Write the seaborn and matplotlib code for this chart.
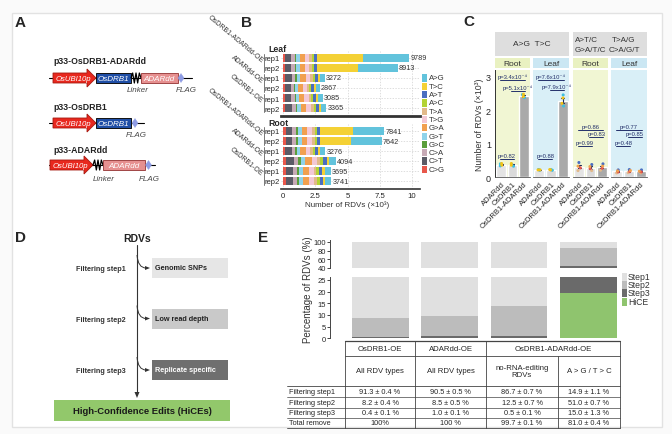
import numpy as np
import pandas as pd
import matplotlib
matplotlib.use("Agg")
import matplotlib.pyplot as plt
import seaborn as sns
from matplotlib.patches import Rectangle, Polygon, PathPatch
from matplotlib.path import Path
from matplotlib.lines import Line2D

sns.set_theme(style="white")
plt.rcParams['font.family'] = ['Liberation Sans', 'DejaVu Sans']

# ---------------- DATA ----------------
# Panel B: stacked RDV counts (rows: Leaf DA rep1, rep2, AD rep1, rep2, OD rep1, rep2, then Root same)
b_types = ["A>G", "T>C", "A>T", "A>C", "T>A", "T>G", "G>A", "G>T", "G>C", "C>A", "C>T", "C>G"]
b_groups = ["OsDRB1-ADARdd-OE", "ADARdd-OE", "OsDRB1-OE"]
b_reps = ["rep1", "rep2"]
b_tissues = ["Leaf", "Root"]
b_totals = [9789, 8913, 3272, 2867, 3085, 3365, 7841, 7642, 3276, 4094, 3695, 3741]
cnt_CG = [180, 180, 186, 166, 176, 193, 200, 200, 186, 235, 210, 214]
cnt_CT = [470, 470, 489, 434, 462, 507, 525, 525, 489, 615, 552, 561]
cnt_CA = [260, 260, 270, 240, 255, 280, 290, 290, 270, 340, 305, 310]
cnt_GC = [130, 130, 135, 120, 128, 140, 145, 145, 135, 170, 153, 155]
cnt_GT = [260, 260, 270, 240, 255, 280, 290, 290, 270, 340, 305, 310]
cnt_GA = [390, 390, 405, 360, 382, 420, 435, 435, 405, 510, 458, 465]
cnt_TG = [340, 340, 354, 314, 334, 367, 380, 380, 354, 445, 400, 406]
cnt_TA = [180, 180, 186, 166, 176, 193, 200, 200, 186, 235, 210, 214]
cnt_AC = [180, 180, 186, 166, 176, 193, 200, 200, 186, 235, 210, 214]
cnt_AT = [210, 210, 219, 194, 206, 227, 235, 235, 219, 275, 247, 251]
cnt_TC = [3600, 3200, 150, 140, 150, 160, 2500, 2400, 160, 200, 180, 180]
cnt_AG = [3589, 3113, 422, 327, 385, 405, 2441, 2342, 416, 494, 465, 461]

# Panel C: per-replicate values (x10^3)
c_groups = ["ADARdd", "OsDRB1", "OsDRB1-ADARdd"]
c_pt_types_agtc = ["A>G", "A>G", "T>C", "T>C"]
c_pt_types_other = ["T>A", "A>T", "C>G", "G>A"]
c_root_agtc = [[0.34, 0.40, 0.36, 0.41], [0.33, 0.39, 0.36, 0.41], [2.37, 2.46, 2.40, 2.47]]
c_leaf_agtc = [[0.21, 0.23, 0.22, 0.22], [0.21, 0.23, 0.22, 0.23], [2.12, 2.45, 2.20, 2.36]]
c_root_other = [[0.20, 0.44, 0.28, 0.33], [0.20, 0.38, 0.26, 0.32], [0.21, 0.40, 0.27, 0.33]]
c_leaf_other = [[0.13, 0.22, 0.16, 0.19], [0.14, 0.23, 0.17, 0.20], [0.13, 0.22, 0.16, 0.18]]
c_p_root_agtc = ["p=0.82", "p=5.1x10⁻⁴", "p=3.4x10⁻⁴"]
c_p_leaf_agtc = ["p=0.88", "p=7.9x10⁻⁴", "p=7.6x10⁻⁴"]
c_p_root_other = ["p=0.99", "p=0.83", "p=0.86"]
c_p_leaf_other = ["p=0.48", "p=0.85", "p=0.77"]

# Panel E: stacked percentages
e_cats = ["OsDRB1-OE", "ADARdd-OE", "no-RNA-editing", "A>G/T>C"]
e_hice = [0.0, 0.0, 0.3, 19.5]
e_step3 = [0.6, 1.0, 0.5, 26.0]
e_step2 = [8.2, 8.6, 13.0, 40.5]
e_step1 = [91.2, 90.4, 86.2, 14.0]
e_table_rows = ["Filtering step1", "Filtering step2", "Filtering step3", "Total remove"]
e_table_c1 = ["91.3 ± 0.4 %", "8.2 ± 0.4 %", "0.4 ± 0.1 %", "100%"]
e_table_c2 = ["90.5 ± 0.5 %", "8.5 ± 0.5 %", "1.0 ± 0.1 %", "100 %"]
e_table_c3 = ["86.7 ± 0.7 %", "12.5 ± 0.7 %", "0.5 ± 0.1 %", "99.7 ± 0.1 %"]
e_table_c4 = ["14.9 ± 1.1 %", "51.0 ± 0.7 %", "15.0 ± 1.3 %", "81.0 ± 0.4 %"]

# ---------------- FIGURE ----------------
W, H = 672, 435
fig = plt.figure(figsize=(W / 100, H / 100), dpi=100, facecolor='#fafafa')
fig.add_artist(Rectangle((12 / W, 1 - 428 / H), 650 / W, 414 / H, transform=fig.transFigure,
                         facecolor='white', edgecolor='#e2e2e2', lw=1.0, zorder=-1))


def add_ax(x0, y0, x1, y1):
    return fig.add_axes([x0 / W, 1 - y1 / H, (x1 - x0) / W, (y1 - y0) / H])


# ---------------- PANEL B ----------------
b_colors = {"A>G": "#62c3dc", "T>C": "#f4d135", "A>T": "#4a6ec0", "A>C": "#b3d334",
            "T>A": "#e2b98a", "T>G": "#f3c8d6", "G>A": "#f1a04f", "G>T": "#8fd3ea",
            "G>C": "#5b9e3b", "C>A": "#c7aab6", "C>T": "#5b5b66", "C>G": "#e8574b"}
seg = {"A>G": cnt_AG, "T>C": cnt_TC, "A>T": cnt_AT, "A>C": cnt_AC, "T>A": cnt_TA, "T>G": cnt_TG,
       "G>A": cnt_GA, "G>T": cnt_GT, "G>C": cnt_GC, "C>A": cnt_CA, "C>T": cnt_CT, "C>G": cnt_CG}
row_ids = [f"{g}|{r}" for g in b_groups for r in b_reps]
stack_order = b_types[::-1]
axB = [add_ax(281, 52, 420, 117), add_ax(281, 125, 420, 190)]
for ti, ax in enumerate(axB):
    sl = slice(6 * ti, 6 * ti + 6)
    cum = np.zeros(6)
    cums = []
    for t in stack_order:
        cum = cum + np.array(seg[t][sl], dtype=float)
        cums.append((t, cum.copy()))
    for t, c in reversed(cums):
        sns.barplot(x=c, y=row_ids, orient='h', color=b_colors[t], width=0.8,
                    saturation=1, linewidth=0, ax=ax)
    for i, tot in enumerate(b_totals[sl]):
        ax.text(tot + 80, i, str(tot), va='center', ha='left', fontsize=5.2, color='#333')
    ax.set_xlim(-155, 10620)
    ax.set_ylim(5.8, -0.7)
    ax.set_xticks([0, 2500, 5000, 7500, 10000])
    ax.set_yticks(range(6))
    ax.set_yticklabels(b_reps * 3, fontsize=5.5)
    ax.tick_params(axis='y', length=0, pad=1)
    ax.set_axisbelow(True)
    ax.grid(True, ls=(0, (2, 2)), color='#d0d0d0', lw=0.5)
    for s in ['top', 'right', 'left']:
        ax.spines[s].set_visible(False)
    ax.spines['bottom'].set_color('#333333')
    ax.set_xlabel('')
    ax.set_ylabel('')
    ax.set_facecolor('white')
axB[0].spines['bottom'].set_linewidth(2.0)
axB[0].tick_params(axis='x', length=0, labelbottom=False)
axB[1].spines['bottom'].set_linewidth(1.2)
axB[1].set_xticklabels(["0", "2.5", "5", "7.5", "10"], fontsize=5.6)
axB[1].tick_params(axis='x', length=2, pad=0.5, width=0.6)

# ---------------- PANEL C ----------------
c_pal = {"ADARdd": "#e4e4e4", "OsDRB1": "#dadada", "OsDRB1-ADARdd": "#a9a9a9"}
pt_pal = {t: b_colors[t] for t in b_types}
pt_pal["A>G"] = "#3fbfe0"
pt_pal["T>C"] = "#f2c318"
facets = [
    ((495, 530), c_root_agtc, c_pt_types_agtc, c_p_root_agtc, "#f1f6d3", [0.55, 2.58, 2.88]),
    ((533, 569), c_leaf_agtc, c_pt_types_agtc, c_p_leaf_agtc, "#d9eff7", [0.53, 2.60, 2.88]),
    ((573, 608), c_root_other, c_pt_types_other, c_p_root_other, "#f1f6d3", [0.93, 1.20, 1.42]),
    ((611, 647), c_leaf_other, c_pt_types_other, c_p_leaf_other, "#d9eff7", [0.93, 1.20, 1.42]),
]
pairs = [(0, 1), (1, 2), (0, 2)]
for fi, (xr, vals, ptypes, pv, bg, ys) in enumerate(facets):
    ax = add_ax(xr[0], 70.7, xr[1], 178.3)
    df = pd.DataFrame({"group": [g for g in c_groups for _ in range(4)],
                       "val": [v for row in vals for v in row],
                       "type": ptypes * 3})
    sns.barplot(data=df, x="group", y="val", hue="group", palette=c_pal, order=c_groups,
                hue_order=c_groups, legend=False, width=0.85, saturation=1, errorbar="se",
                capsize=0.25, err_kws={"color": "#1d2a5e", "linewidth": 0.8}, ax=ax)
    sns.stripplot(data=df, x="group", y="val", hue="type", palette=pt_pal, order=c_groups,
                  size=2.2, jitter=0.12, legend=False, ax=ax, zorder=4)
    ax.set_facecolor(bg)
    ax.set_ylim(0, 3.2)
    ax.set_xlim(-0.55, 2.55)
    ax.set_xlabel('')
    ax.set_ylabel('')
    ax.set_xticks([0, 1, 2])
    ax.set_xticklabels(c_groups, rotation=45, ha='right', rotation_mode='anchor', fontsize=5.5)
    ax.tick_params(axis='x', length=0, pad=2)
    for s in ['top', 'right']:
        ax.spines[s].set_visible(False)
    ax.spines['bottom'].set_color('#555555')
    ax.spines['bottom'].set_linewidth(0.6)
    if fi == 0:
        ax.set_yticks([0, 1, 2, 3])
        ax.set_yticklabels(["0", "1", "2", "3"], fontsize=6.5)
        ax.tick_params(axis='y', length=2, pad=1, width=0.6)
        ax.spines['left'].set_color('#333333')
        ax.spines['left'].set_linewidth(0.7)
    else:
        ax.set_yticks([])
        ax.spines['left'].set_visible(False)
    for (i, j), yv, txt in zip(pairs, ys, pv):
        ax.plot([i - 0.1, j + 0.1], [yv, yv], color='#24316b', lw=0.7)
        ax.text((i + j) / 2, yv + 0.03, txt, ha='center', va='bottom', fontsize=4.2, color='#24316b')

# ---------------- PANEL E ----------------
e_colors = {"Step1": "#e0e0e0", "Step2": "#bcbcbc", "Step3": "#6a6a6a", "HiCE": "#8fc46e"}
c1 = np.array(e_hice)
c2 = c1 + np.array(e_step3)
c3 = c2 + np.array(e_step2)
c4 = c3 + np.array(e_step1)
axEu = add_ax(330, 241, 625, 269)
axEl = add_ax(330, 277.7, 625, 339.3)
for ax in (axEu, axEl):
    for cv, key in [(c4, "Step1"), (c3, "Step2"), (c2, "Step3"), (c1, "HiCE")]:
        sns.barplot(x=e_cats, y=cv, order=e_cats, color=e_colors[key], width=0.82,
                    saturation=1, linewidth=0, ax=ax)
    ax.set_xlim(-0.73, 3.53)
    ax.set_xticks([])
    for s in ['top', 'right', 'bottom']:
        ax.spines[s].set_visible(False)
    ax.spines['left'].set_color('#444444')
    ax.spines['left'].set_linewidth(0.7)
    ax.tick_params(axis='y', length=2, pad=1, width=0.6, labelsize=5.5, left=True)
    ax.set_facecolor('none')
axEu.set_ylim(40, 104.6)
axEu.set_yticks([40, 60, 80, 100])
axEl.set_ylim(0, 26.4)
axEl.set_yticks([0, 5, 10, 15, 20, 25])

# ---------------- OVERLAY (schematics, labels, table) ----------------
ax_o = fig.add_axes([0, 0, 1, 1])
ax_o.set_xlim(0, W)
ax_o.set_ylim(H, 0)
ax_o.axis('off')
ax_o.set_facecolor('none')

for lab, (x, y) in zip("ABCDE", [(20, 23), (247, 23), (469, 22), (20, 238), (263, 238)]):
    ax_o.text(x, y, lab, fontsize=11, fontweight='bold', ha='center', va='center')

# Panel A
def baseline(x0, x1, y):
    ax_o.add_line(Line2D([x0, x1], [y, y], color='black', lw=0.8, zorder=2))

def promoter(x0, x1, y):
    pts = [(x0, y - 5), (x1 - 9, y - 5), (x1 - 9, y - 9), (x1, y), (x1 - 9, y + 9), (x1 - 9, y + 5), (x0, y + 5)]
    ax_o.add_patch(Polygon(pts, closed=True, fc='#e8281e', ec='#a51b12', lw=0.6, zorder=3))
    ax_o.text((x0 + x1) / 2 - 1, y + 0.5, 'OsUBI10p', color='white', style='italic', fontsize=5.6,
              ha='center', va='center', zorder=4)

def box(x0, x1, y, fc, ec, label):
    ax_o.add_patch(Rectangle((x0, y - 5), x1 - x0, 10, fc=fc, ec=ec, lw=0.7, zorder=3))
    ax_o.text((x0 + x1) / 2, y + 0.5, label, color='white', style='italic', fontsize=5.8,
              ha='center', va='center', zorder=4)

def zigzag(x0, x1, y):
    n = 5
    xs = np.linspace(x0, x1, n + 2)
    ys = [y] + [y - 5 if k % 2 == 0 else y + 5 for k in range(n)] + [y]
    ax_o.add_line(Line2D(xs, ys, color='black', lw=0.9, zorder=3))

def diamond(xc, y):
    ax_o.add_patch(Polygon([(xc - 3, y), (xc, y - 4.5), (xc + 3, y), (xc, y + 4.5)], closed=True,
                           fc='#8e9ce4', ec='#8e9ce4', lw=0.3, zorder=3))

def italic(x, y, s):
    ax_o.text(x, y, s, style='italic', fontsize=5.8, color='#444444', ha='center', va='center')

ax_o.text(53, 62, "p33-OsDRB1-ADARdd", fontsize=6.3, fontweight='bold', va='center', color='#222')
baseline(49, 192, 79)
promoter(53, 96, 79)
box(96, 131, 79, '#1f4ea6', '#111111', 'OsDRB1')
zigzag(131, 141, 79)
box(141, 178, 79, '#e69090', '#a04545', 'ADARdd')
diamond(181, 79)
italic(138, 90.5, "Linker")
italic(186, 90.5, "FLAG")

ax_o.text(53, 107, "p33-OsDRB1", fontsize=6.3, fontweight='bold', va='center', color='#222')
baseline(49, 144, 124)
promoter(53, 96, 124)
box(96, 131, 124, '#1f4ea6', '#111111', 'OsDRB1')
diamond(135, 124)
italic(136, 135.5, "FLAG")

ax_o.text(53, 151, "p33-ADARdd", fontsize=6.3, fontweight='bold', va='center', color='#222')
baseline(49, 155, 166)
promoter(50, 93, 166)
zigzag(93, 103, 166)
box(103, 145, 166, '#e69090', '#a04545', 'ADARdd')
diamond(148.5, 166)
italic(104, 180, "Linker")
italic(149, 180, "FLAG")

# Panel B group labels, brackets, legend, tissue labels
ax_o.text(268, 50, "Leaf", fontsize=6.3, fontweight='bold', va='center')
ax_o.text(268, 123, "Root", fontsize=6.3, fontweight='bold', va='center')
for base in (59, 132):
    for gi, g in enumerate(b_groups):
        yc = base + gi * 20 + 5
        ax_o.add_line(Line2D([263.5, 263.5], [yc - 9, yc + 9], color='#777777', lw=0.7))
        ax_o.text(262, yc - 2, g, rotation=-40, rotation_mode='anchor', ha='right', va='center',
                  fontsize=5.0, color='#333')
for i, t in enumerate(b_types):
    yc = 79 + i * 8.3
    ax_o.add_patch(Rectangle((422, yc - 3.6), 5, 7.2, fc=b_colors[t], ec='none'))
    ax_o.text(428.5, yc, t, fontsize=5.6, va='center', ha='left', color='#333')
ax_o.text(347, 205, "Number of RDVs (×10³)", fontsize=5.8, ha='center', va='center', color='#333')

# Panel C headers
ax_o.add_patch(Rectangle((495, 33), 74, 24, fc='#dedede', ec='none'))
ax_o.add_patch(Rectangle((573, 33), 74, 24, fc='#dedede', ec='none'))
ax_o.text(532, 45, "A>G  T>C", fontsize=6, ha='center', va='center', color='#333')
ax_o.text(574.5, 40, "A>T/C", fontsize=5.8, ha='left', va='center', color='#333')
ax_o.text(612, 40, "T>A/G", fontsize=5.8, ha='left', va='center', color='#333')
ax_o.text(574.5, 51, "G>A/T/C", fontsize=5.8, ha='left', va='center', color='#333')
ax_o.text(608.5, 51, "C>A/G/T", fontsize=5.8, ha='left', va='center', color='#333')
for (x0, x1), lab, col in [((495, 530), "Root", '#e9f1c1'), ((533, 569), "Leaf", '#cbe7f3'),
                           ((573, 608), "Root", '#e9f1c1'), ((611, 647), "Leaf", '#cbe7f3')]:
    ax_o.add_patch(Rectangle((x0, 59), x1 - x0, 9.5, fc=col, ec='none'))
    ax_o.text((x0 + x1) / 2, 64, lab, fontsize=6, ha='center', va='center', color='#333')
ax_o.text(480, 125, "Number of RDVs (×10³)", rotation=90, fontsize=6.3, ha='center', va='center', color='#333')

# Panel D flowchart
ax_o.text(137, 239, "RDVs", fontsize=7.5, fontweight='bold', ha='center', va='center', color='#222')
ax_o.add_line(Line2D([137, 137], [246, 394], color='#333333', lw=0.8))
ax_o.add_patch(Polygon([(134.5, 393), (139.5, 393), (137, 399)], closed=True, fc='#333333', ec='none'))
d_boxes = [(259, "Genomic SNPs", '#e6e6e6', '#222'), (309.5, "Low read depth", '#c9c9c9', '#222'),
           (361, "Replicate specific", '#6f6f6f', 'white')]
for k, (y0, lab, fc, tc_) in enumerate(d_boxes):
    ax_o.add_patch(Rectangle((152, y0), 76, 20, fc=fc, ec='none'))
    ax_o.text(155, y0 + 10, lab, fontsize=5.2, fontweight='bold', ha='left', va='center', color=tc_)
    yb = y0 + 10
    curve = Path([(137, y0 - 3), (138, yb), (146, yb)], [Path.MOVETO, Path.CURVE3, Path.CURVE3])
    ax_o.add_patch(PathPatch(curve, fc='none', ec='#333333', lw=0.7))
    ax_o.add_patch(Polygon([(145, yb - 2), (145, yb + 2), (150, yb)], closed=True, fc='#333333', ec='none'))
    ax_o.text(126, y0 + 11, f"Filtering step{k + 1}", fontsize=5.2, fontweight='bold',
              ha='right', va='center', color='#333')
ax_o.add_patch(Rectangle((54, 401), 176, 21, fc='#92c86b', ec='none'))
ax_o.text(142, 411.5, "High-Confidence Edits (HiCEs)", fontsize=6.8, fontweight='bold',
          ha='center', va='center', color='#1a1a1a')

# Panel E ylabel and legend
ax_o.text(308, 290, "Percentage of RDVs (%)", rotation=90, fontsize=7, ha='center', va='center', color='#333')
for i, key in enumerate(["Step1", "Step2", "Step3", "HiCE"]):
    yc = [278, 286, 294, 303][i]
    ax_o.add_patch(Rectangle((622, yc - 4), 5, 8, fc=e_colors[key], ec='none'))
    ax_o.text(628, yc, key, fontsize=6.2, va='center', ha='left', color='#333')

# Table
tc = '#444444'
def hline(y, x0, x1, lw=0.6):
    ax_o.add_line(Line2D([x0, x1], [y, y], color=tc, lw=lw))
def vline(x, y0, y1, lw=0.6):
    ax_o.add_line(Line2D([x, x], [y0, y1], color=tc, lw=lw))
hline(342, 345, 620, 0.9)
hline(357, 345, 620)
hline(387, 287, 620)
for y in (398, 409, 419):
    hline(y, 287, 620, 0.5)
hline(429, 287, 620)
for x in (345, 415, 486, 620):
    vline(x, 342, 429)
vline(558, 357, 429)
fs = 5.3
ax_o.text(380, 349.5, "OsDRB1-OE", fontsize=fs + 0.3, ha='center', va='center')
ax_o.text(450.5, 349.5, "ADARdd-OE", fontsize=fs + 0.3, ha='center', va='center')
ax_o.text(553, 349.5, "OsDRB1-ADARdd-OE", fontsize=fs + 0.3, ha='center', va='center')
ax_o.text(380, 372, "All RDV types", fontsize=fs + 0.3, ha='center', va='center')
ax_o.text(450.5, 372, "All RDV types", fontsize=fs + 0.3, ha='center', va='center')
ax_o.text(522, 372, "no-RNA-editing\nRDVs", fontsize=fs + 0.3, ha='center', va='center', linespacing=1.0)
ax_o.text(589, 372, "A > G / T > C", fontsize=fs + 0.3, ha='center', va='center')
for r, yc in enumerate([392.5, 403.5, 414, 424]):
    ax_o.text(289, yc, e_table_rows[r], fontsize=fs, ha='left', va='center')
    for xc, col in zip([380, 450.5, 522, 589], [e_table_c1, e_table_c2, e_table_c3, e_table_c4]):
        ax_o.text(xc, yc, col[r], fontsize=fs, ha='center', va='center')

fig.savefig("out.png", dpi=100, facecolor=fig.get_facecolor())
